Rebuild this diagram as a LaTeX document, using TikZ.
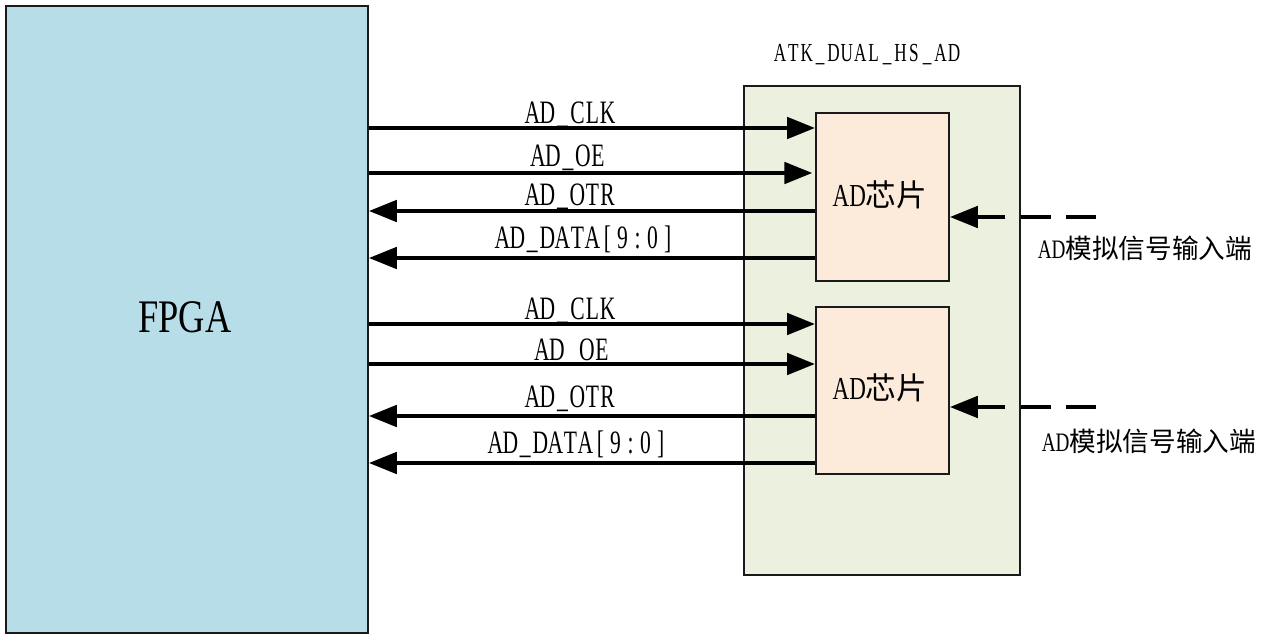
\documentclass[tikz,border=0pt]{standalone}
\usepackage{fontspec}
\usetikzlibrary{arrows.meta}
\newfontfamily\lab{Liberation Serif}[FakeStretch=0.72]
\newfontfamily\labwide{Liberation Serif}[FakeStretch=0.78]
\newfontfamily\labnarrow{Liberation Serif}[FakeStretch=0.66]
\newfontfamily\cjk{Noto Sans CJK SC}
\definecolor{fpgafill}{HTML}{B7DDE8}
\definecolor{boardfill}{HTML}{EBF0DF}
\definecolor{chipfill}{HTML}{FCEADB}
\definecolor{edge}{HTML}{1A1A1A}

% fixed-pitch setting: every character sits in a cell of width \monocell
\newlength\monocell
\def\monoloop#1{\ifx#1\relax\else\hbox to\monocell{\hss#1\hss}\expandafter\monoloop\fi}
\newcommand\mono[2]{\setlength\monocell{#1}\monoloop#2\relax}

\begin{document}
\begin{tikzpicture}[x=0.75pt,y=-0.75pt,
  box/.style={draw=edge, line width=1.4pt, anchor=north west, inner sep=0pt},
  sig/.style={line width=3pt, -{Triangle[length=21pt,width=16pt]}},
  inarrow/.style={line width=3pt, -{Triangle[length=21pt,width=16pt]}},
  feed/.style={line width=3pt, dash pattern=on 22.5pt off 11.5pt},
  siglabel/.style={font=\labnarrow\fontsize{24.5}{28}\selectfont, anchor=base, inner sep=0pt},
  chiptext/.style={font=\fontsize{23}{27}\selectfont, inner sep=0pt},
  inlabel/.style={font=\fontsize{20}{24}\selectfont, inner sep=0pt}
]
\useasboundingbox (0,0) rectangle (1264,638);

% FPGA block
\node[box, fill=fpgafill, minimum width=362*0.75pt, minimum height=627*0.75pt] (fpga) at (5,5) {};
\node[font=\labwide\fontsize{35}{40}\selectfont, inner sep=0pt] (fpganame) at (185,317) {FPGA};

% AD board with two converter chips
\node[box, fill=boardfill, minimum width=276*0.75pt, minimum height=489*0.75pt] (board) at (743,85) {};
\node[font=\labnarrow\fontsize{19.5}{24}\selectfont, anchor=base, inner sep=0pt] (boardname) at (867,62) {\mono{0.515em}{ATK\_DUAL\_HS\_AD}};
\node[box, fill=chipfill, minimum width=133*0.75pt, minimum height=168*0.75pt] (chipA) at (815,112) {};
\node[box, fill=chipfill, minimum width=133*0.75pt, minimum height=167*0.75pt] (chipB) at (815,306) {};
\node[chiptext] (chipAname) at (880,195) {{\lab\fontsize{24}{28}\selectfont AD}{\cjk 芯片}};
\node[chiptext] (chipBname) at (880,388) {{\lab\fontsize{24}{28}\selectfont AD}{\cjk 芯片}};

% signals of the first chip
\draw[sig] (fpga.east |- 0,128) -- (chipA.west |- 0,128);
\draw[sig] (fpga.east |- 0,173) -- ([xshift=-2pt]chipA.west |- 0,173);
\draw[sig] (chipA.west |- 0,211) -- (fpga.east |- 0,211);
\draw[sig] (chipA.west |- 0,258) -- (fpga.east |- 0,258);
\node[siglabel] (clkA) at (570,124) {\mono{0.46em}{AD\_CLK}};
\node[siglabel] (oeA) at (568,167) {\mono{0.46em}{AD\_OE}};
\node[siglabel] (otrA) at (570,206) {\mono{0.46em}{AD\_OTR}};
\node[siglabel] (dataA) at (585,248) {\mono{0.46em}{AD\_DATA[9:0]}};

% signals of the second chip
\draw[sig] (fpga.east |- 0,324) -- (chipB.west |- 0,324);
\draw[sig] (fpga.east |- 0,364) -- (chipB.west |- 0,364);
\draw[sig] (chipB.west |- 0,416) -- (fpga.east |- 0,416);
\draw[sig] (chipB.west |- 0,463) -- (fpga.east |- 0,463);
\node[siglabel] (clkB) at (570,319) {\mono{0.46em}{AD\_CLK}};
\node[siglabel] (oeB) at (572,360) {\mono{0.46em}{AD\_OE}};
\node[siglabel] (otrB) at (570,407) {\mono{0.46em}{AD\_OTR}};
\node[siglabel] (dataB) at (578,453) {\mono{0.46em}{AD\_DATA[9:0]}};

% analog inputs
\coordinate (inA) at (1096,217);
\coordinate (inAmid) at (1003,217);
\coordinate (inB) at (1096,407);
\coordinate (inBmid) at (1003,407);
\draw[feed] (inA) -- (inAmid);
\draw[inarrow] (inAmid) -- (chipA.east |- inAmid);
\draw[feed] (inB) -- (inBmid);
\draw[inarrow] (inBmid) -- (chipB.east |- inBmid);
\node[inlabel] (inAname) at (1145,248) {{\lab AD}{\cjk 模拟信号输入端}};
\node[inlabel] (inBname) at (1149,441) {{\lab AD}{\cjk 模拟信号输入端}};
\end{tikzpicture}
\end{document}
